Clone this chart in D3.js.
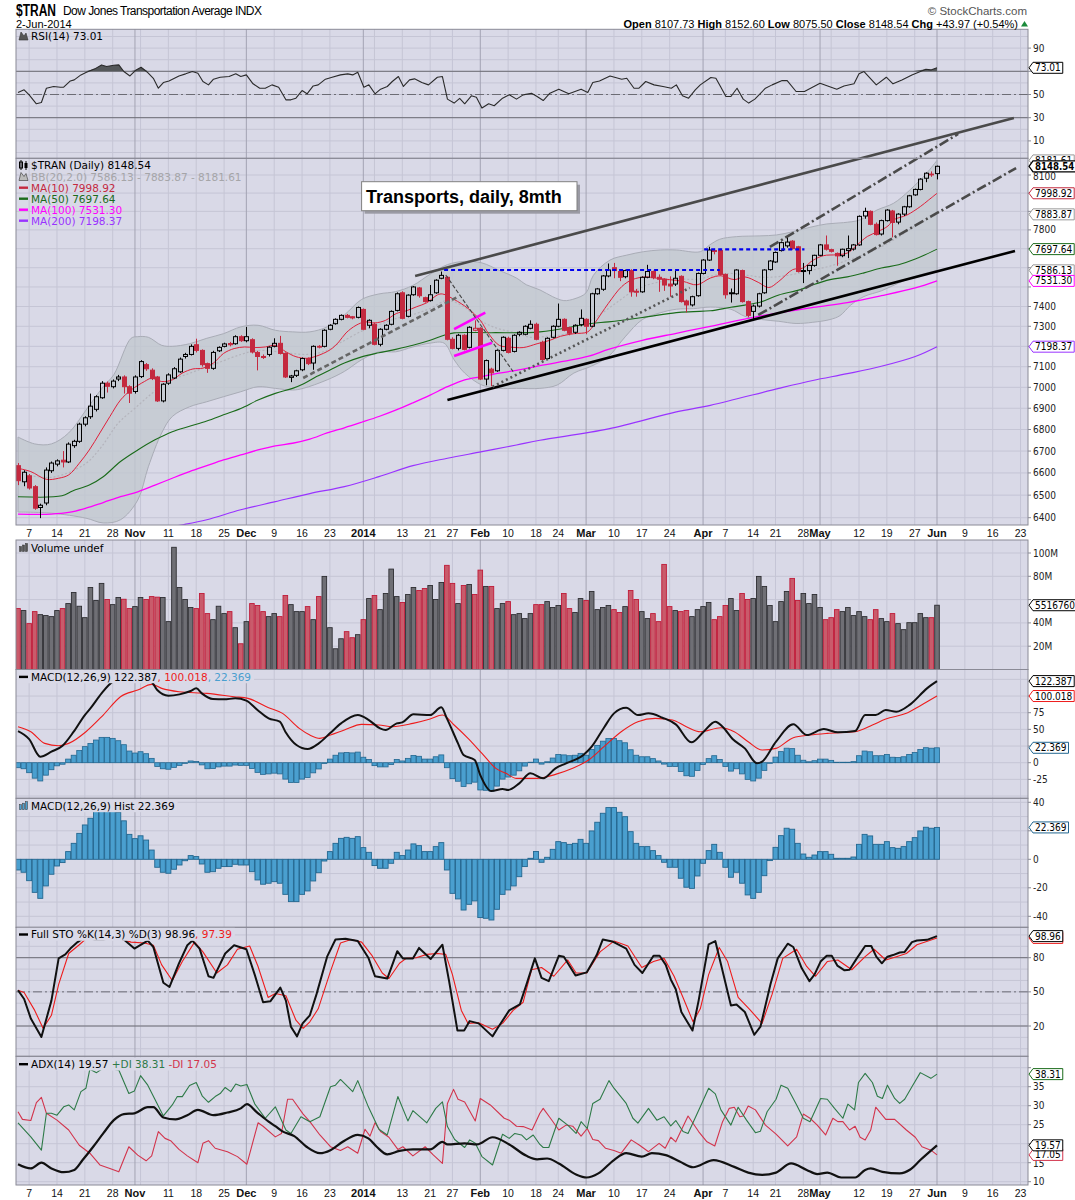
<!DOCTYPE html>
<html>
<head>
<meta charset="utf-8">
<title>$TRAN daily</title>
<script src="https://cdn.jsdelivr.net/npm/d3@7"></script>
<style>
  body { margin: 0; background: #fff; }
  svg { display: block; }
  .lg { font-family: "DejaVu Sans", Verdana, sans-serif; font-size: 10.5px; }
  .ax { font-family: "DejaVu Sans Condensed", "Liberation Sans", Arial, sans-serif; font-size: 10px; fill: #222; }
  .dt { font-family: "Liberation Sans", Arial, sans-serif; font-size: 10.5px; fill: #111; text-anchor: middle; }
</style>
</head>
<body>
<svg id="chart" width="1075" height="1200"></svg>
<script>
// ---- data (bar index 0 = 3-Oct-2013 ... 165 = 2-Jun-2014) ----

// [bar index, label, month start]
var tickLabels = [[2,"7"],[7,"14"],[12,"21"],[17,"28"],[21,"Nov",1],[27,"11"],[32,"18"],[37,"25"],
  [41,"Dec",1],[46,"9"],[51,"16"],[56,"23"],[62,"2014",1],[69,"13"],[74,"21"],[78,"27"],
  [83,"Feb",1],[88,"10"],[93,"18"],[97,"24"],[102,"Mar",1],[107,"10"],[112,"17"],[117,"24"],
  [123,"Apr",1],[127,"7"],[132,"14"],[136,"21"],[141,"28"],[144,"May",1],[151,"12"],[156,"19"],
  [161,"27"],[165,"Jun",1],[170,"9"],[175,"16"],[180,"23"]];
var unlabeledWeeks = [22, 64, 146];

// open, high, low, close
var ohlc = [
 [6633,6645,6545,6565],[6560,6612,6540,6603],[6587,6595,6525,6532],[6538,6545,6435,6442],[6445,6462,6398,6455],
 [6465,6625,6455,6613],[6610,6652,6600,6645],[6640,6662,6630,6655],[6658,6700,6625,6650],[6650,6740,6645,6732],
 [6725,6752,6715,6745],[6745,6832,6738,6825],[6825,6862,6815,6855],[6860,6970,6850,6910],[6895,6962,6885,6955],
 [6950,7030,6945,7020],[7020,7028,6975,7005],[7003,7038,6995,7030],[7040,7060,7030,7050],[7050,7058,6970,7003],
 [7003,7010,6925,6972],[6980,7058,6970,7050],[7052,7132,7045,7125],[7110,7118,7080,7090],[7083,7092,7035,7042],
 [7050,7055,6930,6935],[6935,7020,6928,7015],[7020,7068,7012,7060],[7045,7098,7040,7090],[7075,7145,7070,7137],
 [7150,7168,7140,7160],[7160,7210,7155,7200],[7208,7238,7170,7180],[7180,7185,7100,7110],[7115,7120,7070,7092],
 [7092,7178,7085,7170],[7178,7200,7172,7195],[7200,7218,7195,7212],[7214,7222,7200,7208],[7213,7255,7208,7248],
 [7248,7255,7222,7228],[7228,7297,7220,7248],[7233,7240,7165,7172],[7170,7178,7082,7150],[7150,7160,7138,7145],
 [7160,7200,7150,7196],[7200,7240,7195,7215],[7215,7252,7160,7165],[7165,7170,7045,7050],[7048,7060,7025,7055],
 [7058,7085,7050,7080],[7085,7145,7078,7140],[7140,7145,7108,7115],[7118,7205,7085,7200],[7200,7206,7190,7196],
 [7200,7285,7195,7280],[7285,7310,7280,7305],[7313,7340,7308,7335],[7335,7360,7330,7355],[7355,7362,7340,7345],
 [7348,7352,7335,7342],[7345,7400,7340,7395],[7385,7390,7280,7285],[7305,7335,7290,7330],[7310,7318,7205,7210],
 [7210,7290,7200,7285],[7285,7310,7280,7305],[7310,7380,7305,7375],[7380,7472,7375,7465],[7470,7478,7335,7340],
 [7350,7462,7345,7458],[7460,7505,7455,7500],[7495,7500,7445,7455],[7445,7450,7420,7425],[7430,7510,7425,7460],
 [7470,7540,7465,7535],[7545,7580,7540,7560],[7550,7555,7230,7235],[7235,7245,7185,7190],[7190,7262,7180,7255],
 [7255,7260,7180,7185],[7195,7300,7190,7295],[7280,7330,7275,7290],[7290,7295,7035,7040],[7040,7135,7010,7130],
 [7088,7095,7005,7070],[7080,7185,7075,7180],[7180,7250,7175,7245],[7240,7248,7165,7170],[7175,7260,7170,7255],
 [7260,7275,7250,7270],[7260,7305,7255,7300],[7290,7330,7285,7310],[7310,7318,7230,7235],[7220,7228,7130,7135],
 [7140,7245,7135,7240],[7245,7305,7240,7300],[7300,7415,7295,7335],[7335,7340,7275,7280],[7293,7298,7255,7265],
 [7270,7310,7262,7305],[7308,7385,7300,7340],[7335,7340,7260,7300],[7300,7470,7295,7465],[7465,7495,7460,7490],
 [7488,7562,7480,7557],[7557,7622,7550,7588],[7600,7625,7545,7585],[7580,7590,7530,7550],[7553,7590,7545,7585],
 [7585,7592,7450,7475],[7478,7490,7450,7473],[7475,7555,7470,7550],[7550,7615,7545,7580],[7580,7585,7540,7548],
 [7550,7565,7475,7540],[7540,7545,7480,7510],[7515,7555,7450,7505],[7515,7585,7505,7545],[7555,7560,7420,7425],
 [7428,7435,7370,7408],[7408,7455,7400,7450],[7455,7575,7450,7570],[7570,7645,7565,7640],[7640,7710,7635,7693],
 [7690,7700,7670,7685],[7690,7700,7560,7565],[7565,7570,7440,7460],[7470,7492,7420,7465],[7465,7592,7460,7588],
 [7585,7590,7420,7425],[7425,7430,7345,7355],[7375,7410,7330,7402],[7402,7470,7395,7465],[7470,7592,7465,7588],
 [7590,7640,7585,7635],[7630,7685,7625,7680],[7690,7738,7685,7732],[7715,7765,7705,7735],[7740,7745,7695,7700],
 [7710,7715,7575,7580],[7585,7625,7520,7580],[7585,7615,7565,7612],[7612,7668,7605,7665],[7665,7725,7660,7720],
 [7720,7770,7690,7697],[7695,7700,7680,7686],[7675,7680,7610,7662],[7663,7700,7655,7697],[7690,7770,7650,7700],
 [7698,7725,7690,7720],[7720,7878,7715,7873],[7875,7920,7860,7900],[7900,7905,7825,7830],[7830,7840,7770,7775],
 [7778,7855,7770,7850],[7850,7912,7845,7907],[7902,7908,7760,7840],[7842,7890,7830,7885],[7885,7930,7875,7925],
 [7925,7990,7920,7985],[7990,8025,7985,8020],[8020,8082,8015,8077],[8082,8115,8060,8110],[8105,8120,8090,8104.57],
 [8107.73,8152.60,8075.50,8148.54]
];

// volume, millions
var volume = [52.3,50.6,39.4,49.7,47.1,46.3,45.4,50.6,52.3,56.6,66.1,54.3,44.5,70.4,59.2,73.9,60.1,55.7,61.8,60.3,
 52.3,54.0,61.8,60.1,62.6,62.1,61.8,41.1,104.9,70.4,60.1,53.2,52.3,65.2,48.0,42.8,54.3,48.0,49.7,35.9,
 22.1,41.1,56.6,54.9,49.7,45.4,48.0,45.4,63.5,55.7,49.7,49.7,54.0,42.8,62.6,79.9,35.9,17.8,26.4,32.5,
 27.3,29.9,42.8,60.9,63.5,51.4,65.2,86.2,62.6,57.5,64.4,70.4,67.8,69.5,72.1,60.1,74.7,89.4,73.9,56.6,
 72.1,73.0,64.4,85.3,71.3,71.3,52.3,56.6,58.3,47.1,48.0,43.7,48.0,55.7,55.7,58.3,53.2,54.9,65.2,52.3,
 48.9,60.9,59.2,67.0,51.4,53.2,54.9,51.4,48.9,54.0,67.8,60.1,49.7,43.7,48.0,41.1,90.2,54.0,50.6,49.7,
 50.6,45.4,51.4,54.0,57.5,42.8,45.4,54.9,60.9,50.6,65.2,60.1,60.9,79.9,71.3,54.9,41.1,58.3,67.0,78.2,
 59.2,65.2,56.6,64.4,53.2,42.8,44.5,51.4,49.7,53.2,46.3,49.7,45.4,42.8,51.4,43.7,41.1,48.0,39.4,34.2,
 40.2,40.2,48.0,44.5,44.5,55.17];

// MACD histogram per bar
var macdHist = [-7.5,-9.1,-15,-23.2,-27.4,-18.7,-10.5,-4.7,-2.3,5.4,11.2,18.2,24.1,28.8,34,38,38,36.5,33,27,
 17.5,14.5,16.5,13.5,6.5,-5.6,-9.1,-9.8,-7,-4,-1,2.6,1.9,-3.3,-9.1,-8.7,-6.3,-5.1,-5.1,-3.5,
 -4,-4,-8.7,-14.5,-17.5,-16.8,-15.7,-16.8,-24.6,-29.7,-29.7,-24.6,-22.2,-15.2,-9.4,-1.2,5.4,11.2,14.7,15.4,
 14.7,15.9,8.2,4.9,-4.4,-6.3,-6.3,-2.8,4.9,2.6,6.5,10.8,9.6,5.4,5.4,8.9,11.7,-7.5,-23.9,-27.8,
 -35.6,-31.6,-29.2,-40.9,-41.4,-42.6,-35.1,-24.6,-21.5,-18.7,-12.2,-5.1,0.7,5.5,-2.1,1.4,7,12.4,11.7,10.5,
 11.2,14,11.2,19.9,26,32.3,36.3,36.3,33,29.9,19.4,11.2,8.9,8.9,6.1,2.6,-2.1,-5.6,-5.6,-13.3,
 -19.6,-20.4,-11.7,-2.8,6.1,10.5,4.9,-5.6,-12.6,-9.1,-16.8,-25,-27.4,-23.2,-11.5,-0.9,8.4,16.6,21.8,21.1,
 11.2,3.7,1.4,3,5.4,5.4,3.5,0.7,0.7,0.7,1.6,10.5,17.5,16.4,10.5,10.5,12.4,8.2,7.7,8.9,
 12.4,15.2,19.9,22.5,21.8,22.369];

// [bar index, value] readings of the indicator lines
var rsiPts = [[0,51.7],[1.1,54],[2,49.7],[3.3,42],[4.2,43.1],[5.1,55.4],[6.4,56.9],[7.6,56.3],[8.2,56.3],[9.4,61.7],
 [10.1,62.6],[11.3,66.9],[12.2,68.9],[13.8,72.1],[15,75.5],[15.9,74.1],[17.2,75.2],[18.1,75.5],[19,69.8],[20.1,66],
 [21.2,71.2],[22.1,73.5],[23.3,68.9],[24.3,64],[25.2,55.4],[26.1,60.3],[27.1,61.7],[28.9,66],[30.1,67.8],[31.3,69.8],
 [32.3,68.3],[33.2,61.2],[34.2,58.3],[35.1,63.2],[36.3,64.9],[37.9,65.5],[39.1,67.8],[40,65.5],[41,66.9],[42.2,59.2],
 [43.4,55.4],[44.4,55.4],[45.6,58.3],[46.8,56.3],[48.1,45.4],[49,45.4],[49.9,46.8],[51,53.4],[51.9,50.6],[53,57.4],
 [53.9,58.3],[55.2,63.2],[56.4,64.9],[57.9,66.9],[59.2,67.8],[60.1,66.9],[61,69.2],[62.1,56.3],[63,58.3],[64.1,50.6],
 [65.1,54.6],[66.3,56.9],[67.2,61.2],[68.3,65.5],[69.2,56.9],[70.3,62.6],[71.2,63.5],[72.5,60.3],[73.7,58.3],[75.3,64.9],
 [76.2,65.5],[77.1,46],[78.3,42.6],[79.3,46.6],[80.2,42],[81.4,48.9],[82.3,47.7],[83.3,38.3],[84.5,42],[85.5,40.3],
 [87,46.8],[88.2,49.7],[89.5,46],[90.7,49.7],[92.2,51.1],[93.2,48.3],[94.3,44.8],[95.5,51.1],[97.1,54.6],[98.9,50.6],
 [101.1,54.6],[102.3,51.7],[103.2,60.3],[104.4,61.7],[106.3,66],[108.4,63.2],[109.3,64],[110.6,55.4],[111.5,55.4],[112.7,61.2],
 [114.2,58.3],[115.8,56.9],[117.3,55.4],[118.2,58.3],[119.3,48.9],[120.4,46.8],[121.6,54],[122.5,58.3],[124.4,64.6],[125.3,64],
 [126.2,56.3],[127.1,48.3],[128,48.3],[129.1,55.4],[130.2,46],[131.2,42.6],[132.3,46],[134.2,55.4],[135.4,58.3],[137.2,62],
 [138.1,62],[139.7,52.6],[141.2,52.6],[144,59.7],[147,54.6],[148.3,57.4],[150.1,59.2],[151,67.8],[151.9,69.8],[154.1,58.3],
 [155.9,64.9],[157.1,59.2],[158.7,62.6],[160.5,66.9],[163,71.8],[163.9,71.2],[165,73.01]];

var ma10Pts = [[0,6621],[2.3,6606],[5.1,6571],[7.3,6576],[9.1,6591],[11,6644],[12.8,6705],[14.7,6784],[16.5,6861],[18.4,6939],
 [20.3,6987],[22.7,7028],[24,7044],[25.8,7028],[27.7,7036],[29.5,7069],[31.4,7089],[33.2,7093],[35.1,7118],[36.9,7165],
 [38.8,7189],[40.7,7197],[42.5,7194],[44.4,7197],[46.2,7205],[48.1,7173],[49.9,7149],[51.8,7141],[53.6,7152],[56.1,7184],
 [57.6,7222],[58.9,7267],[60.7,7305],[62.3,7322],[64.1,7317],[66,7330],[67.9,7364],[69.7,7378],[71.6,7399],[73.4,7419],
 [75.3,7459],[76.2,7464],[78.3,7436],[80.8,7390],[83,7330],[84.5,7263],[86.4,7205],[88.2,7197],[90.7,7194],[93.2,7213],
 [95.5,7230],[97.4,7250],[99.8,7263],[102.3,7272],[103.5,7314],[106,7416],[108.4,7502],[110.3,7538],[112.7,7552],[114.5,7546],
 [117,7538],[119.4,7529],[121.9,7511],[124.3,7546],[126.2,7558],[128.6,7538],[130.5,7552],[132.9,7524],[134.8,7497],[136.6,7529],
 [139.1,7590],[140.9,7598],[142.7,7638],[144.6,7663],[147,7668],[148.9,7677],[150.7,7721],[152.5,7765],[154.4,7791],[156.2,7821],
 [157.2,7854],[159.6,7880],[162,7926],[163.5,7962],[165,7998.92]];

var ma50Pts = [[0,6493],[7.9,6497],[9.8,6519],[12.8,6545],[15.3,6583],[18.4,6652],[21.5,6705],[24.6,6752],[27.7,6790],[30.8,6815],
 [33.9,6840],[36.9,6869],[40,6899],[43.1,6939],[46.2,6971],[49.3,6995],[51.2,7016],[53.6,7052],[56.1,7085],[58.6,7118],
 [61.7,7148],[64.8,7168],[67.8,7185],[70.9,7205],[74,7230],[76.5,7255],[78.3,7267],[85,7268],[93.7,7272],[102.9,7314],
 [106,7322],[112.1,7344],[118.2,7369],[121.3,7374],[124.3,7378],[128,7396],[130.5,7407],[133.5,7424],[136.6,7459],[140.3,7485],
 [142.7,7511],[145.8,7538],[148.9,7552],[151.9,7573],[155,7598],[158.1,7615],[161.1,7645],[165,7697.64]];

var ma100Pts = [[0,6416],[6,6416],[9.1,6423],[12.2,6442],[15.3,6467],[18.4,6493],[21.5,6515],[24.6,6545],[27.7,6576],[30.8,6606],
 [33.9,6633],[36.9,6659],[40,6682],[43.1,6705],[46.2,6724],[49.3,6736],[52.4,6755],[55.5,6784],[58.6,6808],[61.7,6834],
 [64.8,6861],[67.8,6891],[70.9,6926],[74,6963],[77.1,7003],[80.2,7036],[83.3,7052],[86.4,7069],[89.5,7082],[93.7,7105],
 [102.3,7150],[106,7185],[112.1,7230],[118.2,7265],[124.3,7300],[132.9,7350],[142.7,7395],[148.9,7420],[155,7455],[161.1,7495],
 [165,7531.30]];

var ma200Pts = [[20,6330],[29.8,6370],[33.9,6391],[40,6435],[46.2,6471],[52.4,6507],[58.6,6538],[64.8,6583],[70.9,6633],[77.1,6667],
 [83.3,6697],[89.5,6728],[93.7,6750],[106,6803],[118.2,6883],[124.3,6914],[136.6,6995],[142.7,7033],[148.9,7066],[155,7102],
 [161.1,7150],[165,7198.37]];

var bbUpperPts = [[0,6765],[3,6733],[6,6733],[9.1,6784],[12.2,6891],[15.3,7003],[17.2,7061],[20.3,7240],[21.5,7248],[23.4,7245],
 [25.8,7205],[27.7,7200],[30.8,7213],[33.9,7240],[36.9,7263],[40,7297],[43.1,7305],[46.2,7280],[49.3,7272],[52.4,7272],
 [55.5,7297],[58.6,7357],[61.7,7436],[64.8,7464],[67.8,7476],[70.9,7508],[74,7566],[77.1,7616],[80.2,7633],[83.3,7625],
 [86.4,7586],[89.5,7546],[91.3,7511],[93.7,7485],[96,7450],[98,7430],[100,7440],[102,7470],[103.3,7560],[106.3,7640],
 [109.3,7666],[112.3,7684],[115.3,7693],[118.2,7693],[122.5,7684],[124.2,7720],[126,7750],[129,7764],[133.2,7768],[136.2,7773],
 [139.2,7791],[142.2,7814],[145.2,7832],[148.2,7839],[151.2,7854],[154.2,7907],[157.2,7944],[160.1,8016],[163.1,8109],[165,8181.61]];

var bbLowerPts = [[0,6425],[6,6420],[12.2,6398],[15.3,6377],[18.4,6391],[21.5,6478],[23.4,6628],[25.8,6784],[27.7,6861],[30.8,6907],
 [33.9,6931],[36.9,6955],[40,6979],[43.1,7003],[46.2,6995],[49.3,6987],[51.2,6995],[55.5,7036],[58.6,7077],[61.7,7134],
 [64.8,7173],[67.8,7173],[70.9,7197],[74,7216],[76.5,7216],[78.3,7134],[80.2,7069],[83.3,7011],[86.4,6995],[89.5,6995],
 [93.7,6995],[96.8,7011],[99.8,7069],[102.9,7102],[106,7150],[109,7247],[112.1,7334],[115.2,7367],[118.2,7386],[121.3,7389],
 [124.3,7397],[128,7386],[130.5,7350],[133.5,7334],[136.6,7325],[139.7,7314],[142.7,7320],[145.8,7334],[147.6,7354],[149.5,7407],
 [151.9,7451],[155,7480],[158.1,7520],[161.1,7555],[165,7586.13]];

var bbMidPts = [[0,6600],[6,6580],[12,6640],[15,6720],[18,6830],[21,6900],[24,6970],[27,7030],[30,7060],[33,7090],
 [36,7120],[40,7160],[43,7180],[46,7175],[49,7165],[52,7160],[55,7175],[58,7220],[62,7280],[65,7310],
 [68,7340],[71,7360],[74,7390],[77,7430],[80,7400],[83,7330],[86,7290],[89,7270],[92,7245],[95,7250],
 [98,7260],[101,7300],[104,7350],[107,7410],[110,7470],[113,7510],[116,7530],[119,7540],[122,7540],[125,7560],
 [128,7570],[131,7560],[134,7550],[137,7555],[140,7570],[143,7590],[146,7610],[149,7640],[152,7670],[155,7710],
 [158,7760],[161,7820],[165,7883.87]];

var macdPts = [[0,47.5],[2,35.5],[4,9],[6,16.5],[8,25.5],[10,46.5],[12,71.5],[13,81.5],[15,104],[17,121.5],
 [19,127],[21,130],[23,127],[24,121.5],[25,109],[27,100.5],[29,102.5],[31,107.5],[32,111.5],[33,104],
 [35,95.5],[37,95],[39,96.5],[41,93],[43,79],[45,66.5],[47,61.5],[48,46.5],[50,26.5],[52,20.5],
 [54,29],[56,44],[58,59],[61,71.5],[63,64],[65,51.5],[66,49],[68,59],[69,60.5],[71,72.5],
 [74,71.5],[76,83],[77,66.5],[79,29],[80,11.5],[82,4],[83,-18.5],[85,-42.5],[87,-39.5],[88,-41],
 [90,-31],[92,-16],[94.3,-23.5],[96.5,-8.5],[98.4,-1],[101.5,11.5],[103,24],[105.2,52.5],[107,74],[109.2,82.5],
 [111.3,71.5],[113.2,74],[115.7,67.5],[118.1,57.5],[120.9,30.5],[123.1,46.5],[125.2,61.5],[126.5,54],[128.3,35.5],[130.5,21.5],
 [132.7,-1],[133.6,1.5],[136.1,31.5],[139.2,57.5],[141.6,41.5],[144.7,50.5],[147.2,45.5],[150.3,47.5],[152.1,71.5],[154,71.5],
 [155.8,79],[157.7,76.5],[160.2,87.5],[163.2,111.5],[165,122.387]];

var signalPts = [[0,54],[2.3,46.5],[4.8,29],[7.3,25.5],[9.1,29],[12.2,46.5],[15.3,71.5],[18.4,99],[21.5,109],[24,117.5],
 [25.8,111.5],[28.9,106.5],[33.9,104],[38.8,99],[41.3,96.5],[45,82.5],[47.5,74],[50.5,51.5],[52.4,41.5],[54.2,36.5],
 [56.1,41.5],[58.6,49],[61.7,57.5],[64.8,56.5],[67.2,54],[70.9,59],[74,65.5],[76.2,71.5],[78.3,56.5],[80.8,36.5],
 [83.3,14],[85.8,-8.5],[87.6,-16],[89.5,-23.5],[93.2,-23.5],[96.5,-17.5],[99.6,-8.5],[102.7,5.5],[105.2,24],[108.3,46.5],
 [111.3,61.5],[114.4,66.5],[117.5,64],[120,54],[122.5,46.5],[126.2,52.5],[128.6,46.5],[131.1,31.5],[133.6,19],[136.1,21.5],
 [139.2,37.5],[142.2,41.5],[145.3,44],[150.3,46.5],[153.4,56.5],[155.8,65.5],[159.5,74],[162,85.5],[165,100.018]];

var stoKPts = [[0,51.4],[1.1,43.7],[2.3,26.6],[4.2,10.3],[6,42.3],[7.3,79.4],[8.5,82.9],[9.4,88],[10.7,93.7],[12,98],
 [13.8,96],[15.3,96],[17.2,98],[19,96],[20.9,88],[23.3,95],[24.3,89.4],[26.1,58],[27.2,54.3],[28.9,75],
 [30.4,90.9],[31.3,95],[32.6,88],[34.2,63.7],[35.1,62.3],[37.2,83.7],[38.8,90.9],[41,87.4],[42.5,65.1],[44,40.9],
 [45.3,41.7],[47.1,53.7],[48.1,42.3],[49,19.4],[50.1,10.9],[51.1,22.3],[52.4,29.4],[53.6,48],[55.5,80.9],[57,96],
 [58.8,96.6],[61,94.6],[62.9,80],[64.1,63.7],[66.3,61.7],[68.1,85.7],[69.1,79.4],[70.9,79.4],[72,88.6],[74.1,78.9],
 [76.2,91.4],[77.4,59.4],[78.9,16],[80.1,16],[81.1,24.3],[82.7,22.3],[85.2,10.9],[86.1,18],[88.2,33.7],[90.1,38.9],
 [91.3,56.6],[92.8,79.4],[94,62.3],[95.3,59.4],[97.1,81.7],[98,80.9],[100.1,64.3],[102.1,67.1],[103.9,82.3],[105,96],
 [106.7,94.3],[109.2,88],[110.7,73.7],[112.1,66.6],[114.1,81.7],[115.2,81.7],[116.3,73.7],[117.2,60.9],[118.1,52.3],[119.1,32.3],
 [121.1,16],[122.2,42.3],[124,91.7],[125.2,94.6],[128,38],[129,38.9],[130.5,32.3],[132.2,12.3],[133.3,19.4],[135.1,56.6],
 [136.4,79.4],[138.2,92.3],[139.2,89.4],[140.7,70.9],[142.1,59.4],[143,65.1],[144.1,76.6],[145.2,81.7],[146.1,81.7],[147.1,73.1],
 [148.4,68.9],[149.3,69.4],[150.6,79.4],[152.1,90.3],[153.2,90.3],[154.1,80.9],[155.1,75.1],[156.1,80.9],[157.1,82.3],[158.3,84.6],
 [159.2,85.1],[160.5,93.7],[161.4,95.1],[163.2,95.7],[165,98.96]];

var stoDPts = [[0,51.4],[1.1,49.4],[3,33.7],[4.5,18],[6,29.4],[7.3,56.6],[9.1,83.7],[11,91.4],[12.2,96.6],[14,97],
 [16,96],[18,97],[20.3,93.7],[22.7,92.9],[24.3,90.9],[25.8,73.7],[27.7,60],[29.5,76.6],[31.7,93.7],[33.2,85.1],
 [35.7,66.6],[37.6,73.7],[39.4,87.4],[41.6,90.3],[43.1,72.3],[44.9,45.1],[46.2,48.6],[48.1,46.6],[49.9,25.1],[51.2,18],
 [52.4,23.7],[53.9,35.1],[56.1,68],[57.9,92.9],[59.8,96],[61.7,93.7],[63.5,82.3],[65.4,66.6],[66.6,61.7],[68.5,75.1],
 [69.7,79.4],[71.5,80],[73.4,82.9],[75.3,83.7],[76.8,82.9],[78,65.1],[79.6,33.7],[80.8,22.3],[82.7,22.9],[85.2,17.1],
 [87,22.3],[88.9,33.7],[90.7,40.9],[92.2,69.4],[94,71.4],[96.2,63.7],[98.7,78],[100.2,66.6],[102.1,66.6],[104.5,85.1],
 [107,94.6],[109.5,90.3],[112,71.4],[114.1,76.6],[116,79.4],[117.8,63.7],[119.4,45.1],[121.2,23.7],[122.5,35.1],[124,65.1],
 [125.9,88.9],[127.4,76.6],[129.3,45.1],[131.4,34.3],[133.6,22.3],[135.4,48],[137.3,79.4],[139.8,87.4],[141.6,72.3],[143.2,63.7],
 [145.3,76.6],[147.2,78],[149.7,69.4],[152.1,80.9],[153.7,87.4],[155.8,78],[157.7,80.9],[159.5,83.7],[161.4,91.4],[165,97.39]];

var adxPts = [[0,14.6],[2.3,13.5],[4.2,15],[6,13.5],[8.2,12.5],[10.1,13.1],[11.6,15.7],[13.5,19.2],[15.3,22.7],[17.2,26.2],
 [19,27.8],[20.9,28],[23.3,29.6],[24.3,29.6],[26.1,26.9],[28.3,26.4],[30.4,27.5],[32.3,28.9],[35.1,27.5],[37.6,28.2],
 [40,29.3],[41.1,30.4],[42.8,28.4],[45,25.8],[46.2,24.6],[47.4,23.3],[49.6,22],[51.8,19.2],[54.2,17.5],[56.1,18.3],
 [58.3,20.5],[61,22.3],[62.9,21.4],[64.4,19.2],[66.3,17.2],[68.5,18.1],[70.9,18.5],[74,18.5],[76.2,20.5],[77.1,19.8],
 [80.2,20.1],[82.4,19.8],[85.2,21.7],[88.2,19.8],[91.3,16.8],[93.2,15.9],[95,16.1],[97.1,14.8],[100.2,11.9],[102.1,11.1],
 [104.2,12.2],[107,15.7],[109.2,17.5],[112,16.6],[113.8,17.5],[116.3,17],[118.8,15.3],[121.2,13.8],[124.9,15.7],[128.6,13.9],
 [131.1,12.4],[133.6,11.8],[136.1,12.4],[138.8,14.8],[141.6,13.1],[143.5,12],[145.3,12.4],[147.8,11.1],[150.3,11.1],[152.1,13.1],
 [153.1,13.5],[155.2,12.6],[158.3,12.2],[160.2,13.2],[162,15.7],[165,19.57]];

var plusDiPts = [[0,25.5],[2.3,21.8],[4.2,18.3],[5.1,28],[6,28],[7,27.5],[8.2,29.7],[9.1,30.2],[10.1,28.9],[11.3,33.7],
 [12.2,34.6],[12.9,39.6],[14.1,38.7],[15,39.6],[15.9,39.8],[18.1,39.4],[19.9,33.2],[20.9,33.9],[22,37.9],[23.3,35.4],
 [26.1,27.3],[27.7,30.2],[28.6,32.4],[29.5,32.4],[30.8,35.3],[32,36.1],[33.1,32.5],[34.2,30.9],[35.4,32.4],[36.3,33.2],
 [37.2,34.8],[38.2,33.7],[39.1,35.7],[40,35.2],[41.1,35.6],[42.5,30.5],[44.4,26.7],[46.2,29.7],[48.1,23.6],[49,22.7],
 [50.8,27.1],[52.4,25.8],[54.2,27.1],[56.1,35],[57,35.4],[57.9,36.9],[60.1,33.7],[61,36.6],[62.9,29.7],[64.8,23.8],
 [66.3,22.3],[68.2,32.4],[70,26],[70.9,28.7],[73.4,25.5],[75,29.3],[76.2,31],[77.1,24.5],[78.4,21.1],[80.2,19],
 [81.1,21],[82.1,20.1],[83.3,16.6],[85.2,14.4],[87,22.5],[88.2,21.4],[89.2,22.7],[90.4,22.3],[91.3,21],[92.5,22.3],
 [93.7,19.8],[94.3,19],[95.3,19],[97.1,26.7],[98.7,24.9],[100.2,22.7],[101.1,25.8],[102.2,24],[103.2,30.6],[104.5,31.7],
 [106.1,36.6],[107,34.6],[109.2,30.6],[110.4,26.7],[111.3,25.4],[113.2,29.3],[114.7,26.2],[116,27.1],[117.2,24.7],[118.1,26.1],
 [119.4,23.2],[120.3,22.7],[122.5,29.7],[124,34.6],[125.2,33.1],[126.2,28.9],[128,24.9],[129.3,29.6],[130.8,26.2],[132.4,22.9],
 [133.3,23.3],[134.5,28.4],[136.1,31.7],[137,35.4],[138.2,34.6],[139.8,30.2],[141,26.7],[142.2,25.8],[144.1,31.9],[145.3,31.7],
 [146.6,29.3],[148.1,26.7],[149,30.4],[150.2,28.9],[150.9,36.1],[152.1,38.5],[153.4,36.1],[154.3,32.5],[155.2,31.9],[156.1,35.4],
 [157.4,31.9],[158.3,30.6],[159.2,31.7],[160.5,35],[162,38.7],[163.9,37.2],[165,38.31]];

var minusDiPts = [[0,28.4],[0.8,26.4],[2.3,26.1],[3.3,30.8],[4.2,32.2],[5.1,28],[7,26.2],[9.1,23.6],[11,19.6],[12.9,17.5],
 [14.7,14.4],[16.5,13.5],[18.1,12.6],[19.9,19.2],[21.5,17],[23,15.5],[24,16.8],[25.2,23.2],[26.4,21.4],[27.4,20.8],
 [28.9,18.5],[30.4,16.8],[32.3,15],[33.2,20.1],[34.2,20.8],[35.4,18.8],[37.6,17.9],[39.4,16.6],[41.1,14.6],[43.1,25.5],
 [44,24.6],[46.2,21.8],[47.3,22.7],[48.4,31.7],[49.3,31.7],[51.2,27.8],[52.4,25.8],[54.2,22.3],[56.1,19.2],[57.9,18.2],
 [59.2,19.2],[61,17.5],[62.3,23.8],[63.2,22],[64.1,25.5],[65.1,23.2],[66.6,21.7],[68.2,18.5],[69.1,19.2],[70.9,16.8],
 [73.1,19.2],[74.6,17],[76.2,14.8],[77.1,30.6],[78.2,34.3],[79,31.7],[80.2,31],[82.1,26],[83,31.9],[84.8,30.2],
 [87.3,26.7],[88.2,26.2],[89.5,24.6],[90.7,24.5],[92.3,23.6],[93.7,28],[94.3,29.3],[95.6,26.7],[97.1,23.6],[98.4,24.9],
 [99.6,24.6],[101.1,22],[102.2,24],[103.2,21.1],[104.2,20.8],[105.5,18.8],[107,18.2],[108.3,17.5],[110.1,21],[111.6,19.6],
 [113.2,17.9],[115.1,20.1],[116.2,18.8],[117.2,21.7],[118.1,20.5],[120.3,27.3],[122.2,23.2],[123.7,20.5],[125.1,19.4],[126.5,25.8],
 [127.7,29.3],[128.6,29.6],[129.6,27.1],[130.2,27.3],[131.1,29.9],[132.4,28.9],[134.2,24.9],[136.1,22.5],[138.2,19.4],[139.8,21.8],
 [141,27.8],[142.2,26.7],[143.5,24.9],[145,22.3],[146.3,26.7],[147.2,25.8],[148.1,25.8],[149.3,23.6],[150.3,24.6],[151.2,21.7],
 [152.1,21],[153.1,23.6],[154,29.6],[155.8,26.4],[157.4,26.4],[159.5,23.6],[161.1,21.7],[162.3,19.2],[163.9,18.3],[165,17.05]];

// drawn trend lines: [[bar, price], [bar, price]]
var trendLines = [
 [[71.3,7557],[178.8,8424]], [[77.1,6939],[179,7688]], [[135,7709],[168.8,8332]], [[132.9,7357],[179.2,8139]],
 [[76.5,7588],[126,7588]], [[123.2,7696],[141.2,7696]], [[78.3,7286],[83.9,7369]], [[78.3,7152],[85.1,7218]],
 [[76.8,7562],[88.9,7076]], [[51.2,7045],[79,7450]], [[85.2,7003],[120.6,7495]]
];

var quote = {open: "8107.73", high: "8152.60", low: "8075.50", close: "8148.54", chg: "+43.97 (+0.54%)"};
var lastVolume = "55167600";

// ---- drawing ----
var svg = d3.select("#chart");
var BG = "#d9d9e7", GRID = "#c5c5d5", MGRID = "#a3a3b3", FRAME = "#8a8a96";
var RED = "#c4293f", GREEN = "#1a6b1a", MAGENTA = "#ff00ff", PURPLE = "#9933ff", BLUE = "#4a9fcf";
var X0 = 16, X1 = 1028;
var x = d3.scaleLinear().domain([0, 165]).range([18, 937]);

var weekLines = tickLabels.map(function(t) { return [t[0], !!t[2]]; })
  .concat(unlabeledWeeks.map(function(t) { return [t, false]; }));

var panels = {
  rsi:   {top: 29.3,   bottom: 158.3,  y: d3.scaleLinear().domain([30, 70]).range([117.7, 71.3]), grid: d3.range(0, 101, 10)},
  price: {top: 158.3,  bottom: 525,    y: d3.scaleLog().domain([6400, 8100]).range([517.7, 175]), grid: d3.range(6400, 8201, 100)},
  vol:   {top: 540,    bottom: 669.5,  y: d3.scaleLinear().domain([0, 100]).range([669.5, 553]), grid: [20, 40, 60, 80, 100]},
  macd:  {top: 669.5,  bottom: 798.3,  y: d3.scaleLinear().domain([0, 75]).range([762.7, 712.7]), grid: d3.range(-50, 126, 25)},
  hist:  {top: 798.3,  bottom: 927.3,  y: d3.scaleLinear().domain([0, 40]).range([859.3, 802.3]), grid: d3.range(-40, 41, 10)},
  sto:   {top: 927.3,  bottom: 1056.3, y: d3.scaleLinear().domain([20, 80]).range([1026, 957.7]), grid: d3.range(0, 101, 10)},
  adx:   {top: 1056.3, bottom: 1185,   y: d3.scaleLinear().domain([10, 40]).range([1181.7, 1067.7]), grid: d3.range(10, 41, 5)}
};

var clipN = 0;
Object.keys(panels).forEach(function(k) {
  var p = panels[k];
  var g = svg.append("g");
  g.append("rect").attr("x", X0).attr("y", p.top).attr("width", X1 - X0).attr("height", p.bottom - p.top).attr("fill", BG);
  p.grid.forEach(function(v) {
    var yy = p.y(v);
    if (yy <= p.top || yy >= p.bottom) return;
    g.append("line").attr("x1", X0).attr("x2", X1).attr("y1", yy).attr("y2", yy).attr("stroke", GRID);
  });
  weekLines.forEach(function(w) {
    g.append("line").attr("x1", x(w[0])).attr("x2", x(w[0])).attr("y1", p.top).attr("y2", p.bottom)
      .attr("stroke", w[1] ? MGRID : GRID);
  });
  var id = "clip" + (clipN++);
  svg.append("clipPath").attr("id", id).append("rect")
    .attr("x", X0).attr("y", p.top).attr("width", X1 - X0).attr("height", p.bottom - p.top);
  p.plot = svg.append("g").attr("clip-path", "url(#" + id + ")");
});

function level(p, v, dash) {
  p.plot.append("line").attr("x1", X0).attr("x2", X1).attr("y1", p.y(v)).attr("y2", p.y(v))
    .attr("stroke", "#6c6c74").attr("stroke-dasharray", dash || null);
}

function drawLine(p, pts, color, width, curve, dash) {
  var line = d3.line().x(function(d) { return x(d[0]); }).y(function(d) { return p.y(d[1]); })
    .curve(curve || d3.curveLinear);
  return p.plot.append("path").attr("d", line(pts)).attr("fill", "none").attr("stroke", color)
    .attr("stroke-width", width).attr("stroke-linejoin", "round").attr("stroke-dasharray", dash || null);
}

// RSI
var pr = panels.rsi;
level(pr, 70); level(pr, 30); level(pr, 50, "9,3,2,3");
var rsiArea = d3.area().x(function(d) { return x(d[0]); }).y0(pr.y(70))
  .y1(function(d) { return pr.y(Math.max(70, d[1])); });
pr.plot.append("path").attr("d", rsiArea(rsiPts)).attr("fill", "#55585a");
drawLine(pr, rsiPts, "#2a2a2a", 1.1);

// price
var pp = panels.price;
var smooth = d3.curveCatmullRom.alpha(0.5);
var upperLine = d3.line().x(function(d) { return x(d[0]); }).y(function(d) { return pp.y(d[1]); }).curve(smooth);
var lowerRev = bbLowerPts.slice().reverse();
pp.plot.append("path")
  .attr("d", upperLine(bbUpperPts) + "L" + upperLine(lowerRev).slice(1) + "Z")
  .attr("fill", "#c2c8cf").attr("fill-opacity", 0.8).attr("stroke", "#a9acb6").attr("stroke-width", 1);
drawLine(pp, bbMidPts, "#b4b4bc", 1.2, smooth, "2,2");
drawLine(pp, ma200Pts, PURPLE, 1.2, smooth);
drawLine(pp, ma100Pts, MAGENTA, 1.3, smooth);
drawLine(pp, ma50Pts, GREEN, 1.1, smooth);
drawLine(pp, ma10Pts, "#e0203a", 1, smooth);

ohlc.forEach(function(d, i) {
  var o = d[0], h = d[1], l = d[2], c = d[3];
  var prev = i > 0 ? ohlc[i - 1][3] : o;
  var col = c < prev ? RED : "#000";
  var cx = Math.round(x(i)) + 0.5;
  var top = pp.y(Math.max(o, c)), bot = pp.y(Math.min(o, c));
  pp.plot.append("line").attr("x1", cx).attr("x2", cx).attr("y1", pp.y(h)).attr("y2", top).attr("stroke", col);
  pp.plot.append("line").attr("x1", cx).attr("x2", cx).attr("y1", bot).attr("y2", pp.y(l)).attr("stroke", col);
  pp.plot.append("rect").attr("x", cx - 2).attr("y", top).attr("width", 4).attr("height", Math.max(bot - top, 0.8))
    .attr("fill", c < o ? col : "none").attr("stroke", col).attr("stroke-width", 1);
});

// trend lines (drawn over the panels, not clipped)
var trendStyle = [
  {c: "#4a4a4a", w: 2.6}, {c: "#000", w: 2.6}, {c: "#4a4a4a", w: 2.6, d: "10,3,2,3"}, {c: "#4a4a4a", w: 2.6, d: "10,3,2,3"},
  {c: "#0000ee", w: 2.2, d: "4,3"}, {c: "#0000ee", w: 2.2, d: "4,3"}, {c: MAGENTA, w: 2.6}, {c: MAGENTA, w: 2.6},
  {c: "#444", w: 1.1, d: "4,2"}, {c: "#666", w: 2.6, d: "5,3"}, {c: "#555", w: 2.6, d: "2,3"}
];
trendLines.forEach(function(t, k) {
  var s = trendStyle[k];
  svg.append("line").attr("x1", x(t[0][0])).attr("y1", pp.y(t[0][1])).attr("x2", x(t[1][0])).attr("y2", pp.y(t[1][1]))
    .attr("stroke", s.c).attr("stroke-width", s.w).attr("stroke-dasharray", s.d || null);
});

// annotation box
svg.append("rect").attr("x", 364.6).attr("y", 184.7).attr("width", 215.4).attr("height", 29).attr("fill", "#9a9aa4");
svg.append("rect").attr("x", 361.6).attr("y", 181.7).attr("width", 215.4).attr("height", 29).attr("fill", "#fff").attr("stroke", "#808080");
svg.append("text").attr("x", 366).attr("y", 203.2).attr("font-family", "Liberation Sans, Arial, sans-serif")
  .attr("font-size", 18).attr("font-weight", "bold").text("Transports, daily, 8mth");

// volume
var pv = panels.vol;
volume.forEach(function(v, i) {
  var down = ohlc[i][3] < (i > 0 ? ohlc[i - 1][3] : ohlc[i][0]);
  pv.plot.append("rect").attr("x", x(i) - 2.3).attr("y", pv.y(v)).attr("width", 4.6).attr("height", pv.y(0) - pv.y(v))
    .attr("fill", down ? "#c95b6b" : "#6f6f75").attr("stroke", down ? "#c01a38" : "#2e2e32").attr("stroke-width", 0.9);
});

// MACD
var pm = panels.macd;
macdHist.forEach(function(v, i) {
  pm.plot.append("rect").attr("x", x(i) - 2.5).attr("width", 5)
    .attr("y", Math.min(pm.y(v), pm.y(0))).attr("height", Math.abs(pm.y(v) - pm.y(0)))
    .attr("fill", BLUE).attr("stroke", "#22668f").attr("stroke-width", 0.8);
});
drawLine(pm, signalPts, "#ee1c1c", 1.1, d3.curveMonotoneX);
drawLine(pm, macdPts, "#111", 2, d3.curveMonotoneX);

// MACD hist
var ph = panels.hist;
macdHist.forEach(function(v, i) {
  ph.plot.append("rect").attr("x", x(i) - 2.5).attr("width", 5)
    .attr("y", Math.min(ph.y(v), ph.y(0))).attr("height", Math.abs(ph.y(v) - ph.y(0)))
    .attr("fill", BLUE).attr("stroke", "#22668f").attr("stroke-width", 0.9);
});

// STO
var ps = panels.sto;
level(ps, 80); level(ps, 20); level(ps, 50, "9,3,2,3");
drawLine(ps, stoDPts, "#ee1c1c", 1.1);
drawLine(ps, stoKPts, "#111", 2);

// ADX
var pa = panels.adx;
drawLine(pa, minusDiPts, "#d2344c", 1.1);
drawLine(pa, plusDiPts, "#2e7a48", 1.1);
drawLine(pa, adxPts, "#111", 2.2, d3.curveMonotoneX);

// frames
Object.keys(panels).forEach(function(k) {
  var p = panels[k];
  svg.append("rect").attr("x", X0).attr("y", p.top).attr("width", X1 - X0).attr("height", p.bottom - p.top)
    .attr("fill", "none").attr("stroke", FRAME);
});

// date labels
[537, 1196.5].forEach(function(yy) {
  tickLabels.forEach(function(t) {
    svg.append("text").attr("class", "dt").attr("x", x(t[0])).attr("y", yy)
      .style("font-weight", t[2] ? "bold" : null).style("font-size", t[2] ? "11px" : null).text(t[1]);
  });
});

function last(a) { return a[a.length - 1][1]; }

// value tags on the right axis: [panel, value, label, colour, bold]
var tags = [
  [pr, last(rsiPts), last(rsiPts).toFixed(2), "#000"],
  [pp, last(bbUpperPts), last(bbUpperPts).toFixed(2), "#999"],
  [pp, last(ma10Pts), last(ma10Pts).toFixed(2), RED],
  [pp, last(bbMidPts), last(bbMidPts).toFixed(2), "#999"],
  [pp, last(ma50Pts), last(ma50Pts).toFixed(2), GREEN],
  [pp, last(bbLowerPts), last(bbLowerPts).toFixed(2), "#999"],
  [pp, last(ma100Pts), last(ma100Pts).toFixed(2), MAGENTA],
  [pp, last(ma200Pts), last(ma200Pts).toFixed(2), PURPLE],
  [pp, ohlc[165][3], ohlc[165][3].toFixed(2), "#000", true],
  [pv, volume[165], lastVolume, "#000"],
  [pm, last(macdPts), last(macdPts).toFixed(3), "#000"],
  [pm, last(signalPts), last(signalPts).toFixed(3), "#ee1c1c"],
  [pm, macdHist[165], macdHist[165].toFixed(3), "#22668f"],
  [ph, macdHist[165], macdHist[165].toFixed(3), "#22668f"],
  [ps, last(stoDPts), last(stoDPts).toFixed(2), "#ee1c1c"],
  [ps, last(stoKPts), last(stoKPts).toFixed(2), "#000"],
  [pa, last(minusDiPts), last(minusDiPts).toFixed(2), "#d2344c"],
  [pa, last(adxPts), last(adxPts).toFixed(2), "#000"],
  [pa, last(plusDiPts), last(plusDiPts).toFixed(2), GREEN]
];
var tagYs = tags.map(function(t) { return t[0].y(t[1]); });

// right axis labels (a label that sits under a value tag is hidden by it)
function axisLabels(p, vals, fmt) {
  vals.forEach(function(v) {
    var yy = p.y(v);
    svg.append("line").attr("x1", X1).attr("x2", X1 + 3).attr("y1", yy).attr("y2", yy).attr("stroke", FRAME);
    var covered = tagYs.some(function(ty) { return Math.abs(ty - yy) < 7; });
    var near = tagYs.some(function(ty) { return ty < yy && yy - ty < 9; });
    if (!covered) svg.append("text").attr("class", "ax").attr("x", 1033).attr("y", yy + (near ? 4.5 : 3.5)).text(fmt ? fmt(v) : v);
  });
}
axisLabels(pr, [90, 70, 50, 30, 10]);
axisLabels(pp, d3.range(6400, 8101, 100));
axisLabels(pv, [20, 40, 60, 80, 100], function(v) { return v + "M"; });
axisLabels(pm, [-25, 0, 25, 50, 75, 100]);
axisLabels(ph, [-40, -20, 0, 20, 40]);
axisLabels(ps, [20, 50, 80]);
axisLabels(pa, [10, 15, 20, 25, 30, 35, 40]);

tags.forEach(function(t, k) {
  var yy = tagYs[k], bold = t[4];
  var g = svg.append("g");
  var tx = g.append("text").attr("class", "ax").attr("x", 1035).attr("y", yy + 3.5).text(t[2])
    .style("font-weight", bold ? "bold" : null).style("font-size", bold ? "9.6px" : null).style("fill", "#000");
  var w = tx.node().getComputedTextLength();
  g.insert("path", "text")
    .attr("d", "M1029," + yy + "L1033," + (yy - 5.5) + "H" + (1037 + w) + "V" + (yy + 5.5) + "H1033Z")
    .attr("fill", "#fff").attr("stroke", t[3]).attr("stroke-width", bold ? 1.3 : 1);
});

// legends
function legend(yc, parts, icon, bg) {
  var g = svg.append("g");
  var t = g.append("text").attr("class", "lg").attr("x", 31).attr("y", yc + 4);
  parts.forEach(function(p) { t.append("tspan").attr("fill", p[1]).text(p[0]); });
  if (bg) {
    var w = t.node().getComputedTextLength();
    g.insert("rect", "text").attr("x", 17).attr("y", yc - 6.5).attr("width", w + 17).attr("height", 13).attr("fill", BG);
  }
  if (icon === "dash") g.append("rect").attr("x", 19).attr("y", yc - 1).attr("width", 9).attr("height", 2.4).attr("fill", parts[0][1]);
  if (icon === "mount") g.append("path").attr("d", "M19," + (yc + 4) + "L21," + (yc - 4) + "L24," + yc + "L26," + (yc - 3) + "L28," + (yc + 4) + "Z").attr("fill", parts[0][1] === "#000" ? "#555" : "#bbb").attr("stroke", "#333").attr("stroke-width", 0.6);
  if (icon === "bars") [0, 3, 6].forEach(function(o, k) {
    g.append("rect").attr("x", 19.5 + o).attr("y", yc - 1 - k * 1.5).attr("width", 2).attr("height", 5 + k * 1.5)
      .attr("fill", parts[0][1] === "#000" && parts[0][0].indexOf("Hist") < 0 ? "#555" : BLUE).attr("stroke", "#333").attr("stroke-width", 0.5);
  });
  if (icon === "candle") {
    g.append("rect").attr("x", 19.5).attr("y", yc - 3).attr("width", 3).attr("height", 6).attr("fill", "none").attr("stroke", "#000");
    g.append("rect").attr("x", 24.5).attr("y", yc - 2).attr("width", 3).attr("height", 5).attr("fill", "#000");
    g.append("line").attr("x1", 21).attr("x2", 21).attr("y1", yc - 5).attr("y2", yc + 5).attr("stroke", "#000");
    g.append("line").attr("x1", 26).attr("x2", 26).attr("y1", yc - 4).attr("y2", yc + 5).attr("stroke", "#000");
  }
}
legend(36, [["RSI(14) " + last(rsiPts).toFixed(2), "#000"]], "mount");
legend(165, [["$TRAN (Daily) " + quote.close, "#000"]], "candle");
legend(176.5, [["BB(20,2.0) " + last(bbLowerPts).toFixed(2) + " - " + last(bbMidPts).toFixed(2) + " - " + last(bbUpperPts).toFixed(2), "#a5a5a8"]], "mount");
legend(187.5, [["MA(10) " + last(ma10Pts).toFixed(2), RED]], "dash");
legend(198.5, [["MA(50) " + last(ma50Pts).toFixed(2), GREEN]], "dash");
legend(209.5, [["MA(100) " + last(ma100Pts).toFixed(2), MAGENTA]], "dash");
legend(220.5, [["MA(200) " + last(ma200Pts).toFixed(2), PURPLE]], "dash");
legend(547.5, [["Volume undef", "#000"]], "bars");
legend(676.7, [["MACD(12,26,9) " + last(macdPts).toFixed(3), "#000"], [", " + last(signalPts).toFixed(3), "#ee1c1c"], [", " + macdHist[165].toFixed(3), BLUE]], "dash", true);
legend(805.7, [["MACD(12,26,9) Hist " + macdHist[165].toFixed(3), "#000"]], "bars", true);
legend(934.3, [["Full STO %K(14,3) %D(3) " + last(stoKPts).toFixed(2), "#000"], [", " + last(stoDPts).toFixed(2), "#ee1c1c"]], "dash", true);
legend(1064, [["ADX(14) " + last(adxPts).toFixed(2) + " ", "#000"], ["+DI " + last(plusDiPts).toFixed(2) + " ", "#2e7a48"], ["-DI " + last(minusDiPts).toFixed(2), "#d2344c"]], "dash", true);

// header
svg.append("text").attr("x", 16).attr("y", 15.5).attr("font-family", "Liberation Sans Narrow, Arial Narrow, Liberation Sans, sans-serif")
  .attr("font-size", 16).attr("font-weight", "bold").attr("textLength", 40).attr("lengthAdjust", "spacingAndGlyphs").text("$TRAN");
svg.append("text").attr("x", 63).attr("y", 14.5).attr("font-family", "Liberation Sans, Arial, sans-serif")
  .attr("font-size", 12).attr("textLength", 199).attr("lengthAdjust", "spacing").text("Dow Jones Transportation Average  INDX");
svg.append("text").attr("x", 16).attr("y", 27.5).attr("font-family", "Liberation Sans, Arial, sans-serif")
  .attr("font-size", 11).text("2-Jun-2014");
svg.append("text").attr("x", 1027).attr("y", 15).attr("text-anchor", "end").attr("font-family", "Liberation Sans, Arial, sans-serif")
  .attr("font-size", 11.5).attr("fill", "#555").text("\u00a9 StockCharts.com");
var qt = svg.append("text").attr("x", 1018).attr("y", 27.5).attr("text-anchor", "end")
  .attr("font-family", "Liberation Sans, Arial, sans-serif").attr("font-size", 11);
[["Open ", 1], [quote.open + "  "], ["High ", 1], [quote.high + "  "], ["Low ", 1], [quote.low + "  "],
 ["Close ", 1], [quote.close + "  "], ["Chg ", 1], [quote.chg]].forEach(function(p) {
  qt.append("tspan").attr("font-weight", p[1] ? "bold" : null).text(p[0]);
});
svg.append("path").attr("d", "M1021,26.5L1024.5,21L1028,26.5Z").attr("fill", "#1a8a3a");
</script>
</body>
</html>
